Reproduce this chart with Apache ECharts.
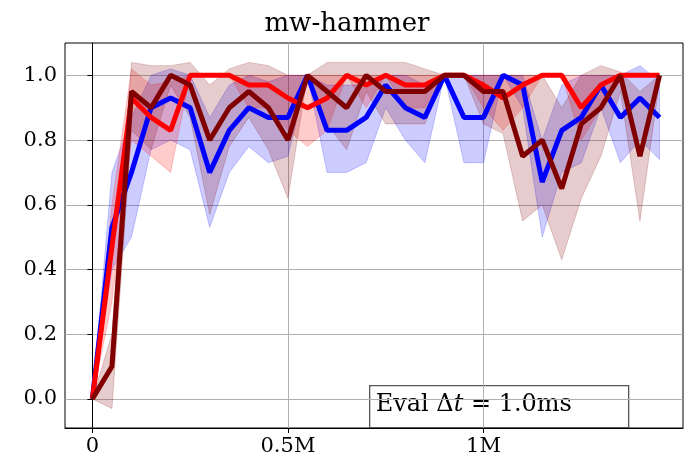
<!DOCTYPE html><html><head><meta charset="utf-8"><script src="https://cdn.jsdelivr.net/npm/echarts@6/dist/echarts.min.js"></script></head><body style="margin:0"><div id="c" style="width:694px;height:475px"></div><script>
const steps=[0,0.05,0.1,0.15,0.2,0.25,0.3,0.35,0.4,0.45,0.5,0.55,0.6,0.65,0.7,0.75,0.8,0.85,0.9,0.95,1.0,1.05,1.1,1.15,1.2,1.25,1.3,1.35,1.4,1.45];
const blue=[0,0.53,0.7,0.9,0.93,0.9,0.7,0.83,0.9,0.87,0.87,1.0,0.83,0.83,0.87,0.97,0.9,0.87,1.0,0.87,0.87,1.0,0.97,0.67,0.83,0.87,0.97,0.87,0.93,0.87];
const blueUp=[0,0.7,0.87,1.0,1.02,1.0,0.87,0.97,1.0,0.98,1.0,1.0,0.97,0.97,0.97,1.0,1.0,0.97,1.0,1.0,1.0,1.0,1.0,0.8,0.97,1.0,1.0,1.0,1.03,0.98];
const blueLo=[0,0.4,0.5,0.77,0.8,0.77,0.53,0.7,0.78,0.73,0.75,1.0,0.7,0.7,0.73,0.9,0.8,0.73,1.0,0.73,0.73,1.0,0.9,0.5,0.7,0.73,0.9,0.73,0.8,0.74];
const red=[0,0.47,0.93,0.87,0.83,1.0,1.0,1.0,0.97,0.97,0.93,0.9,0.93,1.0,0.97,1.0,0.97,0.97,1.0,1.0,0.97,0.93,0.97,1.0,1.0,0.9,0.97,1.0,1.0,1.0];
const redUp=[0,0.6,1.02,0.97,0.98,1.0,1.0,1.0,1.0,1.0,1.0,1.0,1.0,1.0,1.0,1.0,1.0,1.0,1.0,1.0,1.0,1.0,1.0,1.0,1.0,1.0,1.0,1.0,1.0,1.0];
const redLo=[0,0.3,0.8,0.75,0.7,1.0,1.0,1.0,0.9,0.9,0.83,0.78,0.83,1.0,0.9,1.0,0.9,0.9,1.0,1.0,0.9,0.83,0.9,1.0,1.0,0.8,0.9,1.0,1.0,1.0];
const dark=[0,0.1,0.95,0.9,1.0,0.97,0.8,0.9,0.95,0.9,0.8,1.0,0.95,0.9,1.0,0.95,0.95,0.95,1.0,1.0,0.95,0.95,0.75,0.8,0.65,0.85,0.9,1.0,0.75,1.0];
const darkUp=[0,0.2,1.04,1.03,1.03,1.04,0.97,1.02,1.04,1.03,1.0,1.0,1.04,1.04,1.04,1.04,1.04,1.02,1.0,1.0,1.0,1.0,1.0,1.0,0.9,1.0,1.03,1.01,0.95,1.0];
const darkLo=[0,-0.03,0.83,0.77,0.97,0.87,0.57,0.78,0.87,0.77,0.62,1.0,0.85,0.77,0.95,0.85,0.85,0.85,1.0,1.0,0.85,0.82,0.55,0.6,0.43,0.62,0.75,0.95,0.55,0.98];
const xTicks=[0,0.5,1.0], xLabels={0:'0',0.5:'0.5M',1:'1M'};
const yTicks=[0,0.2,0.4,0.6,0.8,1.0];
const F='DejaVu Serif';
function band(lo,up,color){
 return {type:'custom',silent:true,z:1,data:[[0,0]],clip:true,
  renderItem:(params,api)=>{
   const pts=[];
   steps.forEach((x,i)=>pts.push(api.coord([x,up[i]])));
   for(let i=steps.length-1;i>=0;i--)pts.push(api.coord([steps[i],lo[i]]));
   return {type:'polygon',shape:{points:pts},style:{fill:color,opacity:0.2,stroke:color,lineWidth:1}};
  }};
}
function line(v,color){return {type:'line',data:steps.map((x,i)=>[x,v[i]]),symbol:'none',lineStyle:{color:color,width:5},z:3};}
const ch=echarts.init(document.getElementById('c'));
ch.setOption({animation:false,
 title:{text:'mw-hammer',left:'center',top:6,textStyle:{fontFamily:F,fontSize:26,fontWeight:'normal',color:'#000'}},
 grid:{left:65,right:11,top:43,bottom:47,show:true,borderColor:'#000',borderWidth:1},
 xAxis:{type:'value',min:-0.07,max:1.51,axisLine:{onZero:false,lineStyle:{color:'#000'}},
  axisTick:{customValues:xTicks,length:5,lineStyle:{color:'#000'}},
  axisLabel:{customValues:xTicks,formatter:v=>xLabels[v],fontFamily:F,fontSize:21,color:'#000',margin:8},
  splitLine:{show:true,lineStyle:{color:'#b0b0b0'}}},
 yAxis:{type:'value',min:-0.09,max:1.1,axisLine:{show:true,lineStyle:{color:'#000'}},
  axisTick:{show:true,customValues:yTicks,length:5,lineStyle:{color:'#000'}},
  axisLabel:{customValues:yTicks,formatter:v=>v.toFixed(1),fontFamily:F,fontSize:21,color:'#000'},
  splitLine:{show:true,lineStyle:{color:'#b0b0b0'}}},
 graphic:[{type:'group',left:369,top:385,z:100,children:[
   {type:'rect',shape:{x:0,y:0,width:259,height:42},style:{fill:'rgba(255,255,255,0.85)',stroke:'#555',lineWidth:1.3}},
   {type:'text',x:6,y:7,style:{text:'{a|Eval Δ}{b|t}{a| = 1.0ms}',rich:{a:{fontFamily:F,fontSize:24,fill:'#000'},b:{fontFamily:F,fontSize:24,fontStyle:'italic',fill:'#000'}}}}]}],
 series:[band(blueLo,blueUp,'#0000ff'),band(redLo,redUp,'#ff0000'),band(darkLo,darkUp,'#800000'),
  line(blue,'#0000ff'),line(red,'#ff0000'),line(dark,'#800000')]
});
</script></body></html>
